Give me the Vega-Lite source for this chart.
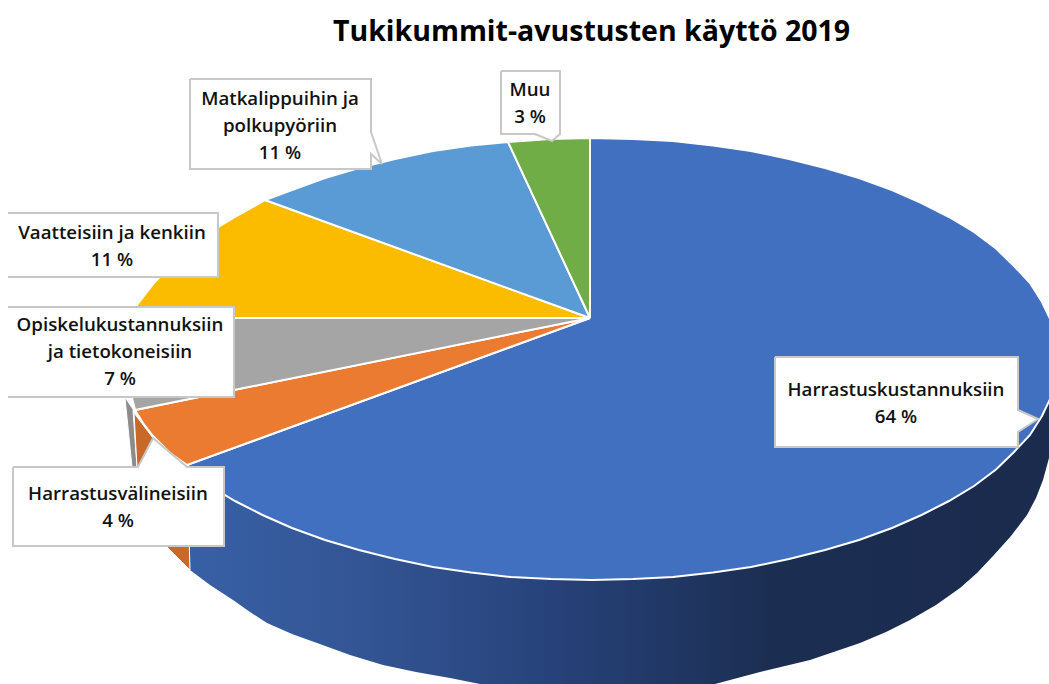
{
"$schema":"https://vega.github.io/schema/vega-lite/v6.json",
"width":1049,"height":684,"padding":0,"autosize":{"type":"none"},
"background":"white",
"title":{"text":"Tukikummit-avustusten käyttö 2019","font":"Open Sans","fontSize":28.5,"fontWeight":"bold","color":"#000000","anchor":"middle","dx":67,"offset":-46},
"config":{"view":{"stroke":null}},
"datasets":{
"sideBlue":[
{"i":0,"x":-403,"y":-147},{"i":1,"x":-400,"y":-252},{"i":2,"x":-380,"y":-267},{"i":3,"x":-357,"y":-282},{"i":4,"x":-340,"y":-294},{"i":5,"x":-323,"y":-305},{"i":6,"x":-298,"y":-316},{"i":7,"x":-273,"y":-325},{"i":8,"x":-240,"y":-337},{"i":9,"x":-207,"y":-347},{"i":10,"x":-174,"y":-354},{"i":11,"x":-140,"y":-360},{"i":12,"x":-105,"y":-367},{"i":13,"x":-73,"y":-372},{"i":14,"x":10,"y":-382},{"i":15,"x":125,"y":-366},{"i":16,"x":170,"y":-354},{"i":17,"x":220,"y":-342},{"i":18,"x":270,"y":-325},{"i":19,"x":296,"y":-314},{"i":20,"x":320,"y":-302},{"i":21,"x":346,"y":-287},{"i":22,"x":370,"y":-270},{"i":23,"x":387,"y":-255},{"i":24,"x":403,"y":-238},{"i":25,"x":421,"y":-218},{"i":26,"x":437,"y":-197},{"i":27,"x":446,"y":-180},{"i":28,"x":453,"y":-162},{"i":29,"x":459,"y":-140},{"i":30,"x":462,"y":-127},{"i":31,"x":468,"y":-82}],
"sides":[
{"slice":"Opiskelukustannuksiin (sivu)","i":0,"x":-465,"y":-80},{"slice":"Opiskelukustannuksiin (sivu)","i":1,"x":-458,"y":-149},{"slice":"Opiskelukustannuksiin (sivu)","i":2,"x":-453,"y":-149},{"slice":"Opiskelukustannuksiin (sivu)","i":3,"x":-457,"y":-92},
{"slice":"Harrastusvälineisiin (sivu)","i":0,"x":-456,"y":-95},{"slice":"Harrastusvälineisiin (sivu)","i":1,"x":-437,"y":-120},{"slice":"Harrastusvälineisiin (sivu)","i":2,"x":-403,"y":-147},{"slice":"Harrastusvälineisiin (sivu)","i":3,"x":-400,"y":-252},{"slice":"Harrastusvälineisiin (sivu)","i":4,"x":-425,"y":-227},{"slice":"Harrastusvälineisiin (sivu)","i":5,"x":-453,"y":-149},{"slice":"Harrastusvälineisiin (sivu)","i":6,"x":-456,"y":-95}],
"slices":[
{"slice":"Harrastuskustannuksiin","pct":64,"i":0,"x":0,"y":0},{"slice":"Harrastuskustannuksiin","pct":64,"i":1,"x":0,"y":180},{"slice":"Harrastuskustannuksiin","pct":64,"i":2,"x":43,"y":179},{"slice":"Harrastuskustannuksiin","pct":64,"i":3,"x":83,"y":177},{"slice":"Harrastuskustannuksiin","pct":64,"i":4,"x":123,"y":172.5},{"slice":"Harrastuskustannuksiin","pct":64,"i":5,"x":161,"y":167},{"slice":"Harrastuskustannuksiin","pct":64,"i":6,"x":199,"y":159},{"slice":"Harrastuskustannuksiin","pct":64,"i":7,"x":235,"y":150},{"slice":"Harrastuskustannuksiin","pct":64,"i":8,"x":269,"y":140},{"slice":"Harrastuskustannuksiin","pct":64,"i":9,"x":302,"y":128},{"slice":"Harrastuskustannuksiin","pct":64,"i":10,"x":331.5,"y":115},{"slice":"Harrastuskustannuksiin","pct":64,"i":11,"x":359,"y":101},{"slice":"Harrastuskustannuksiin","pct":64,"i":12,"x":384,"y":86},{"slice":"Harrastuskustannuksiin","pct":64,"i":13,"x":406,"y":69.5},{"slice":"Harrastuskustannuksiin","pct":64,"i":14,"x":424,"y":52},{"slice":"Harrastuskustannuksiin","pct":64,"i":15,"x":440,"y":35},{"slice":"Harrastuskustannuksiin","pct":64,"i":16,"x":452,"y":16},{"slice":"Harrastuskustannuksiin","pct":64,"i":17,"x":461,"y":-3},{"slice":"Harrastuskustannuksiin","pct":64,"i":18,"x":466,"y":-22},{"slice":"Harrastuskustannuksiin","pct":64,"i":19,"x":468,"y":-41},{"slice":"Harrastuskustannuksiin","pct":64,"i":20,"x":466,"y":-60},{"slice":"Harrastuskustannuksiin","pct":64,"i":21,"x":461,"y":-79},{"slice":"Harrastuskustannuksiin","pct":64,"i":22,"x":452,"y":-98},{"slice":"Harrastuskustannuksiin","pct":64,"i":23,"x":440,"y":-117},{"slice":"Harrastuskustannuksiin","pct":64,"i":24,"x":424,"y":-134},{"slice":"Harrastuskustannuksiin","pct":64,"i":25,"x":406,"y":-151.5},{"slice":"Harrastuskustannuksiin","pct":64,"i":26,"x":384,"y":-168},{"slice":"Harrastuskustannuksiin","pct":64,"i":27,"x":359,"y":-183},{"slice":"Harrastuskustannuksiin","pct":64,"i":28,"x":331.5,"y":-197},{"slice":"Harrastuskustannuksiin","pct":64,"i":29,"x":302,"y":-210},{"slice":"Harrastuskustannuksiin","pct":64,"i":30,"x":269,"y":-222},{"slice":"Harrastuskustannuksiin","pct":64,"i":31,"x":235,"y":-232},{"slice":"Harrastuskustannuksiin","pct":64,"i":32,"x":199,"y":-241},{"slice":"Harrastuskustannuksiin","pct":64,"i":33,"x":161,"y":-249},{"slice":"Harrastuskustannuksiin","pct":64,"i":34,"x":123,"y":-254.5},{"slice":"Harrastuskustannuksiin","pct":64,"i":35,"x":83,"y":-259},{"slice":"Harrastuskustannuksiin","pct":64,"i":36,"x":43,"y":-261},{"slice":"Harrastuskustannuksiin","pct":64,"i":37,"x":2,"y":-262},{"slice":"Harrastuskustannuksiin","pct":64,"i":38,"x":-39,"y":-261},{"slice":"Harrastuskustannuksiin","pct":64,"i":39,"x":-79,"y":-259},{"slice":"Harrastuskustannuksiin","pct":64,"i":40,"x":-119,"y":-254.5},{"slice":"Harrastuskustannuksiin","pct":64,"i":41,"x":-157,"y":-249},{"slice":"Harrastuskustannuksiin","pct":64,"i":42,"x":-195,"y":-241},{"slice":"Harrastuskustannuksiin","pct":64,"i":43,"x":-231,"y":-232},{"slice":"Harrastuskustannuksiin","pct":64,"i":44,"x":-265,"y":-222},{"slice":"Harrastuskustannuksiin","pct":64,"i":45,"x":-298,"y":-210},{"slice":"Harrastuskustannuksiin","pct":64,"i":46,"x":-327.5,"y":-197},{"slice":"Harrastuskustannuksiin","pct":64,"i":47,"x":-355,"y":-183},{"slice":"Harrastuskustannuksiin","pct":64,"i":48,"x":-380,"y":-168},{"slice":"Harrastuskustannuksiin","pct":64,"i":49,"x":-403,"y":-147},{"slice":"Harrastuskustannuksiin","pct":64,"i":50,"x":0,"y":0},
{"slice":"Harrastusvälineisiin","pct":4,"i":0,"x":0,"y":0},{"slice":"Harrastusvälineisiin","pct":4,"i":1,"x":-403,"y":-147},{"slice":"Harrastusvälineisiin","pct":4,"i":2,"x":-420,"y":-135},{"slice":"Harrastusvälineisiin","pct":4,"i":3,"x":-437,"y":-118},{"slice":"Harrastusvälineisiin","pct":4,"i":4,"x":-447,"y":-105},{"slice":"Harrastusvälineisiin","pct":4,"i":5,"x":-455,"y":-92},{"slice":"Harrastusvälineisiin","pct":4,"i":6,"x":0,"y":0},
{"slice":"Opiskelukustannuksiin","pct":7,"i":0,"x":0,"y":0},{"slice":"Opiskelukustannuksiin","pct":7,"i":1,"x":-455,"y":-92},{"slice":"Opiskelukustannuksiin","pct":7,"i":2,"x":-463,"y":-60},{"slice":"Opiskelukustannuksiin","pct":7,"i":3,"x":-464,"y":-41},{"slice":"Opiskelukustannuksiin","pct":7,"i":4,"x":-461,"y":-15},{"slice":"Opiskelukustannuksiin","pct":7,"i":5,"x":-456,"y":0},{"slice":"Opiskelukustannuksiin","pct":7,"i":6,"x":0,"y":0},
{"slice":"Vaatteisiin ja kenkiin","pct":11,"i":0,"x":0,"y":0},{"slice":"Vaatteisiin ja kenkiin","pct":11,"i":1,"x":-456,"y":0},{"slice":"Vaatteisiin ja kenkiin","pct":11,"i":2,"x":-453,"y":13},{"slice":"Vaatteisiin ja kenkiin","pct":11,"i":3,"x":-436,"y":35},{"slice":"Vaatteisiin ja kenkiin","pct":11,"i":4,"x":-420,"y":52},{"slice":"Vaatteisiin ja kenkiin","pct":11,"i":5,"x":-402,"y":69.5},{"slice":"Vaatteisiin ja kenkiin","pct":11,"i":6,"x":-380,"y":86},{"slice":"Vaatteisiin ja kenkiin","pct":11,"i":7,"x":-355,"y":101},{"slice":"Vaatteisiin ja kenkiin","pct":11,"i":8,"x":-325,"y":118},{"slice":"Vaatteisiin ja kenkiin","pct":11,"i":9,"x":0,"y":0},
{"slice":"Matkalippuihin ja polkupyöriin","pct":11,"i":0,"x":0,"y":0},{"slice":"Matkalippuihin ja polkupyöriin","pct":11,"i":1,"x":-325,"y":118},{"slice":"Matkalippuihin ja polkupyöriin","pct":11,"i":2,"x":-298,"y":128},{"slice":"Matkalippuihin ja polkupyöriin","pct":11,"i":3,"x":-265,"y":140},{"slice":"Matkalippuihin ja polkupyöriin","pct":11,"i":4,"x":-231,"y":150},{"slice":"Matkalippuihin ja polkupyöriin","pct":11,"i":5,"x":-195,"y":159},{"slice":"Matkalippuihin ja polkupyöriin","pct":11,"i":6,"x":-157,"y":167},{"slice":"Matkalippuihin ja polkupyöriin","pct":11,"i":7,"x":-119,"y":172.5},{"slice":"Matkalippuihin ja polkupyöriin","pct":11,"i":8,"x":-82,"y":176},{"slice":"Matkalippuihin ja polkupyöriin","pct":11,"i":9,"x":0,"y":0},
{"slice":"Muu","pct":3,"i":0,"x":0,"y":0},{"slice":"Muu","pct":3,"i":1,"x":-82,"y":176},{"slice":"Muu","pct":3,"i":2,"x":-40,"y":179},{"slice":"Muu","pct":3,"i":3,"x":0,"y":180},{"slice":"Muu","pct":3,"i":4,"x":0,"y":0}],
"callouts":[
{"c":"a","i":0,"x":185,"y":-39},{"c":"a","i":1,"x":428,"y":-39},{"c":"a","i":2,"x":428,"y":-92},{"c":"a","i":3,"x":448,"y":-101},{"c":"a","i":4,"x":428,"y":-114},{"c":"a","i":5,"x":428,"y":-129},{"c":"a","i":6,"x":185,"y":-129},{"c":"a","i":7,"x":185,"y":-39},
{"c":"b","i":0,"x":-577,"y":-149},{"c":"b","i":1,"x":-452,"y":-149},{"c":"b","i":2,"x":-437,"y":-120},{"c":"b","i":3,"x":-403,"y":-149},{"c":"b","i":4,"x":-366,"y":-149},{"c":"b","i":5,"x":-366,"y":-228},{"c":"b","i":6,"x":-577,"y":-228},{"c":"b","i":7,"x":-577,"y":-149},
{"c":"c","i":0,"x":-582,"y":11},{"c":"c","i":1,"x":-356,"y":11},{"c":"c","i":2,"x":-356,"y":-79},{"c":"c","i":3,"x":-582,"y":-79},
{"c":"d","i":0,"x":-582,"y":105},{"c":"d","i":1,"x":-372,"y":105},{"c":"d","i":2,"x":-372,"y":41},{"c":"d","i":3,"x":-582,"y":41},
{"c":"e","i":0,"x":-400,"y":239},{"c":"e","i":1,"x":-219,"y":239},{"c":"e","i":2,"x":-219,"y":186},{"c":"e","i":3,"x":-208,"y":154},{"c":"e","i":4,"x":-219,"y":164},{"c":"e","i":5,"x":-219,"y":149},{"c":"e","i":6,"x":-400,"y":149},{"c":"e","i":7,"x":-400,"y":239},
{"c":"f","i":0,"x":-89,"y":247},{"c":"f","i":1,"x":-30,"y":247},{"c":"f","i":2,"x":-30,"y":184},{"c":"f","i":3,"x":-38,"y":177},{"c":"f","i":4,"x":-55,"y":184},{"c":"f","i":5,"x":-89,"y":184},{"c":"f","i":6,"x":-89,"y":247}],
"labels":[
{"label":["Harrastuskustannuksiin","64 %"],"x":306,"y":-72},
{"label":["Harrastusvälineisiin","4 %"],"x":-472,"y":-176},
{"label":["Opiskelukustannuksiin","ja tietokoneisiin","7 %"],"x":-470,"y":-7},
{"label":["Vaatteisiin ja kenkiin","11 %"],"x":-478,"y":85},
{"label":["Matkalippuihin ja","polkupyöriin","11 %"],"x":-310,"y":219},
{"label":["Muu","3 %"],"x":-60,"y":228}]
},
"encoding":{
"x":{"field":"x","type":"quantitative","axis":null,"scale":{"domain":[-590,459],"nice":false,"zero":false}},
"y":{"field":"y","type":"quantitative","axis":null,"scale":{"domain":[-366,318],"nice":false,"zero":false}}
},
"layer":[
{"data":{"name":"sideBlue"},
 "mark":{"type":"line","clip":true,"strokeWidth":0,"fill":{"gradient":"linear","x1":0,"y1":0,"x2":1,"y2":0,"stops":[{"offset":0,"color":"#3860a6"},{"offset":0.2,"color":"#335594"},{"offset":0.42,"color":"#27427a"},{"offset":0.68,"color":"#1b2d50"},{"offset":1,"color":"#1a2b4e"}]}},
 "encoding":{"order":{"field":"i","type":"quantitative"}}},
{"data":{"name":"sides"},
 "mark":{"type":"line","clip":true,"stroke":"white","strokeWidth":1},
 "encoding":{"order":{"field":"i","type":"quantitative"},"fill":{"field":"slice","type":"nominal","legend":null,"scale":{"domain":["Opiskelukustannuksiin (sivu)","Harrastusvälineisiin (sivu)","Harrastuskustannuksiin","Harrastusvälineisiin","Opiskelukustannuksiin","Vaatteisiin ja kenkiin","Matkalippuihin ja polkupyöriin","Muu"],"range":["#8c8c8c","#c8692a","#4270c0","#ea7b30","#a5a5a5","#fbbc00","#5b9bd5","#70ad47"]}}}},
{"data":{"name":"slices"},
 "mark":{"type":"line","clip":true,"stroke":"white","strokeWidth":2},
 "encoding":{"order":{"field":"i","type":"quantitative"},"fill":{"field":"slice","type":"nominal","legend":null}}},
{"data":{"name":"callouts"},
 "mark":{"type":"line","clip":true,"fill":"white","stroke":"#c8c8c8","strokeWidth":2},
 "encoding":{"order":{"field":"i","type":"quantitative"},"detail":{"field":"c","type":"nominal"}}},
{"data":{"name":"labels"},
 "mark":{"type":"text","font":"Open Sans","fontSize":18.7,"fontWeight":600,"color":"#111111","align":"center","baseline":"middle","lineHeight":27},
 "encoding":{"text":{"field":"label"}}}
]
}
